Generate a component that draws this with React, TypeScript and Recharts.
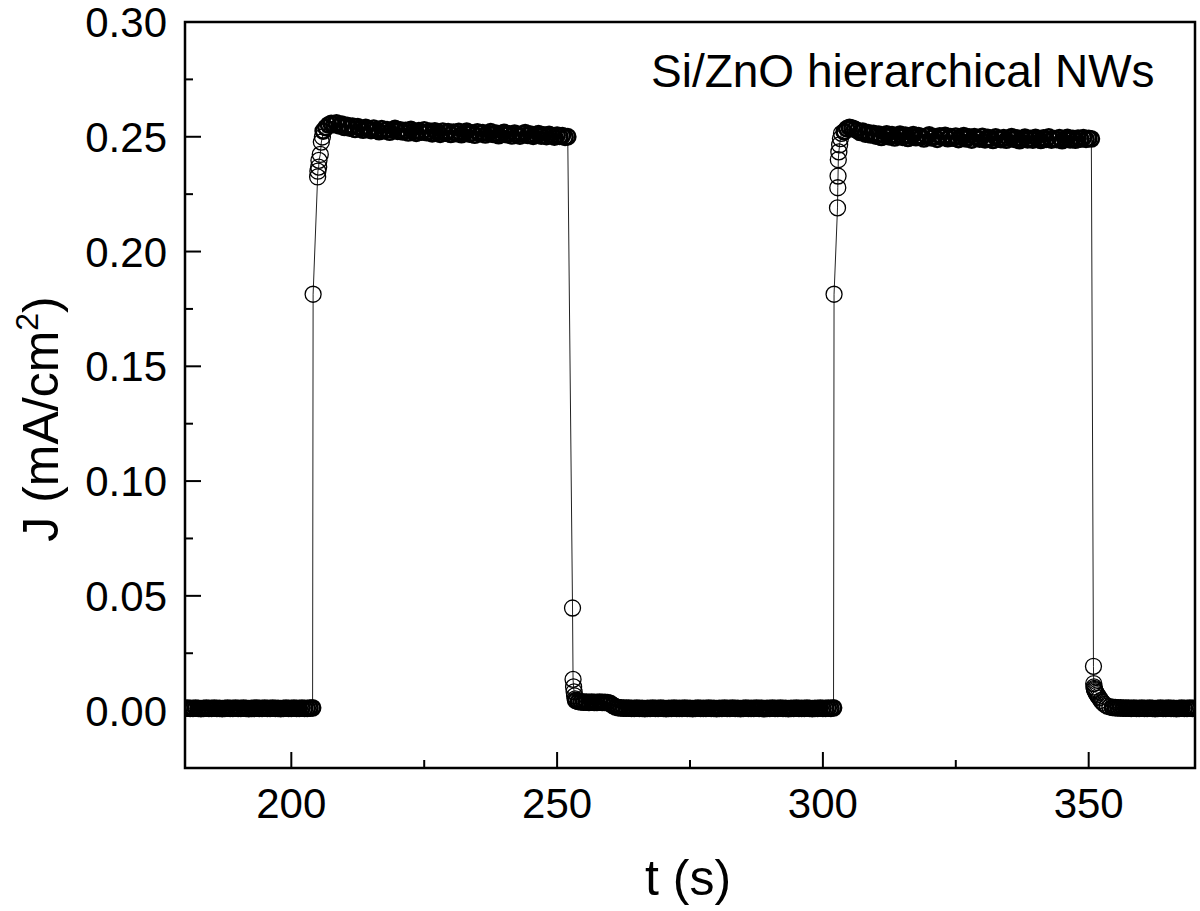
import { ComposedChart, Line, ReferenceArea, XAxis, YAxis } from "recharts";

const FONT = '"Liberation Sans", Arial, Helvetica, sans-serif';

// photocurrent samples, J in mA/cm²
const sampleStep = 0.5;

const dark1Start = 180;
const dark1Values = [
  0.0010, 0.0011, 0.0010, 0.0010, 0.0011, 0.0010, 0.0009, 0.0010, 0.0011, 0.0010,
  0.0010, 0.0011, 0.0010, 0.0010, 0.0009, 0.0010, 0.0011, 0.0010, 0.0010, 0.0011,
  0.0010, 0.0010, 0.0011, 0.0010, 0.0009, 0.0010, 0.0010, 0.0011, 0.0010, 0.0010,
  0.0011, 0.0010, 0.0010, 0.0011, 0.0010, 0.0010, 0.0009, 0.0010, 0.0011, 0.0010,
  0.0010, 0.0011, 0.0010, 0.0010, 0.0011, 0.0010, 0.0010, 0.0011, 0.0012,
];

const rise1Times = [204.1, 204.95, 205.0, 205.15, 205.2, 205.45, 205.65, 205.85];
const rise1Values = [0.1814, 0.2325, 0.235, 0.2368, 0.2397, 0.2423, 0.2477, 0.2499];

const on1Start = 206;
const on1Values = [
  0.2525, 0.2540, 0.2552, 0.2558, 0.2553, 0.2560, 0.2548, 0.2555, 0.2541, 0.2550,
  0.2538, 0.2546, 0.2532, 0.2544, 0.2536, 0.2529, 0.2541, 0.2533, 0.2527, 0.2538,
  0.2530, 0.2522, 0.2535, 0.2526, 0.2531, 0.2520, 0.2529, 0.2536, 0.2524, 0.2530,
  0.2521, 0.2528, 0.2517, 0.2532, 0.2523, 0.2515, 0.2527, 0.2520, 0.2530, 0.2518,
  0.2524, 0.2513, 0.2526, 0.2519, 0.2511, 0.2525, 0.2516, 0.2522, 0.2510, 0.2520,
  0.2514, 0.2523, 0.2509, 0.2518, 0.2524, 0.2512, 0.2517, 0.2507, 0.2521, 0.2513,
  0.2518, 0.2508, 0.2515, 0.2522, 0.2510, 0.2516, 0.2505, 0.2514, 0.2519, 0.2509,
  0.2513, 0.2504, 0.2516, 0.2510, 0.2503, 0.2512, 0.2518, 0.2506, 0.2511, 0.2502,
  0.2509, 0.2514, 0.2503, 0.2508, 0.2501, 0.2510, 0.2505, 0.2499, 0.2507, 0.2502,
  0.2505, 0.2498, 0.2500,
];

const fall1Times = [252.9, 253.0, 253.1, 253.2, 253.3, 253.4];
const fall1Values = [0.0447, 0.0136, 0.0103, 0.0082, 0.0064, 0.0051];

const dark2Start = 253.5;
const dark2Values = [
  0.0044, 0.0040, 0.0038, 0.0037, 0.0037, 0.0036, 0.0037, 0.0036, 0.0036, 0.0037,
  0.0036, 0.0036, 0.0035, 0.0031, 0.0023, 0.0016, 0.0013, 0.0012, 0.0011, 0.0011,
  0.0011, 0.0010, 0.0010, 0.0011, 0.0010, 0.0010, 0.0009, 0.0010, 0.0010, 0.0011,
  0.0010, 0.0010, 0.0011, 0.0010, 0.0009, 0.0010, 0.0010, 0.0011, 0.0010, 0.0010,
  0.0010, 0.0011, 0.0010, 0.0010, 0.0009, 0.0010, 0.0011, 0.0010, 0.0010, 0.0010,
  0.0011, 0.0010, 0.0010, 0.0009, 0.0010, 0.0010, 0.0011, 0.0010, 0.0010, 0.0011,
  0.0010, 0.0010, 0.0009, 0.0010, 0.0011, 0.0010, 0.0010, 0.0010, 0.0011, 0.0010,
  0.0010, 0.0009, 0.0010, 0.0010, 0.0011, 0.0010, 0.0010, 0.0011, 0.0010, 0.0010,
  0.0009, 0.0010, 0.0010, 0.0011, 0.0010, 0.0010, 0.0010, 0.0011, 0.0010, 0.0009,
  0.0010, 0.0010, 0.0011, 0.0010, 0.0010, 0.0011, 0.0010, 0.0012,
];

const rise2Times = [302.1, 302.75, 302.8, 302.85, 302.9, 303.0, 303.15, 303.3, 303.5];
const rise2Values = [0.1814, 0.219, 0.2278, 0.2329, 0.24, 0.2434, 0.2465, 0.2492, 0.2515];

const on2Start = 304;
const on2Values = [
  0.2522, 0.2535, 0.2541, 0.2538, 0.2533, 0.2527, 0.2519, 0.2524, 0.2512, 0.2518,
  0.2508, 0.2515, 0.2503, 0.2511, 0.2497, 0.2506, 0.2513, 0.2500, 0.2509, 0.2495,
  0.2504, 0.2511, 0.2498, 0.2507, 0.2493, 0.2502, 0.2509, 0.2496, 0.2505, 0.2499,
  0.2491, 0.2503, 0.2508, 0.2495, 0.2501, 0.2489, 0.2504, 0.2497, 0.2506, 0.2492,
  0.2500, 0.2494, 0.2503, 0.2488, 0.2498, 0.2505, 0.2491, 0.2499, 0.2486, 0.2501,
  0.2495, 0.2490, 0.2502, 0.2487, 0.2497, 0.2493, 0.2484, 0.2499, 0.2492, 0.2488,
  0.2496, 0.2485, 0.2494, 0.2500, 0.2489, 0.2495, 0.2483, 0.2492, 0.2498, 0.2487,
  0.2493, 0.2486, 0.2497, 0.2490, 0.2484, 0.2495, 0.2489, 0.2499, 0.2486, 0.2492,
  0.2488, 0.2496, 0.2483, 0.2491, 0.2497, 0.2487, 0.2493, 0.2485, 0.2494, 0.2490,
  0.2496, 0.2489, 0.2493, 0.2491,
];

const fall2Times = [
  350.9, 350.95, 351.0, 351.05, 351.1, 351.2, 351.3, 351.45,
  351.6, 351.8, 352.0, 352.3, 352.6, 353.0, 353.5, 354.0,
];
const fall2Values = [
  0.0193, 0.0118, 0.0103, 0.0097, 0.0092, 0.0087, 0.0081, 0.0075,
  0.0069, 0.0062, 0.0055, 0.0045, 0.0036, 0.0027, 0.002, 0.0016,
];

const dark3Start = 354.5;
const dark3Values = [
  0.0014, 0.0013, 0.0012, 0.0012, 0.0011, 0.0011, 0.0011, 0.0010, 0.0011, 0.0010,
  0.0010, 0.0011, 0.0010, 0.0010, 0.0011, 0.0010, 0.0009, 0.0010, 0.0011, 0.0010,
  0.0010, 0.0011, 0.0010, 0.0010, 0.0009, 0.0010, 0.0011, 0.0010, 0.0010, 0.0011,
  0.0010, 0.0010,
];

const xTicks = [200, 225, 250, 275, 300, 325, 350];
const yTicks = [0, 0.025, 0.05, 0.075, 0.1, 0.125, 0.15, 0.175, 0.2, 0.225, 0.25, 0.275, 0.3];

// steady = densely sampled plateau, transient = the few points on each switching edge
const sampled = (start: number, values: number[]) =>
  values.map((j, i) => ({ t: start + i * sampleStep, j, steady: true }));
const paired = (times: number[], values: number[]) =>
  times.map((t, i) => ({ t, j: values[i], steady: false }));

const data = [
  ...sampled(dark1Start, dark1Values),
  ...paired(rise1Times, rise1Values),
  ...sampled(on1Start, on1Values),
  ...paired(fall1Times, fall1Values),
  ...sampled(dark2Start, dark2Values),
  ...paired(rise2Times, rise2Values),
  ...sampled(on2Start, on2Values),
  ...paired(fall2Times, fall2Values),
  ...sampled(dark3Start, dark3Values),
];

function renderDot(props: any) {
  const { cx, cy, index, payload } = props;
  if (cx == null || cy == null) return <g key={`d-${index}`} />;
  // the original sampling is much denser, so plateau rings merge into a solid band
  return (
    <circle
      key={`d-${index}`}
      cx={cx}
      cy={cy}
      r={payload.steady ? 7.6 : 8}
      fill="none"
      stroke="#000"
      strokeWidth={payload.steady ? 2.6 : 1.3}
    />
  );
}

function XTick({ x, y, payload }: any) {
  const major = payload.value % 50 === 0;
  return (
    <g>
      <line x1={x} x2={x} y1={y} y2={y - (major ? 16 : 8)} stroke="#000" strokeWidth={2} />
      {major && (
        <text x={x} y={y + 50} textAnchor="middle" fontSize={42} fontFamily={FONT} fill="#000">
          {payload.value}
        </text>
      )}
    </g>
  );
}

function YTick({ x, y, payload }: any) {
  const major = Math.round(payload.value * 1000) % 50 === 0;
  return (
    <g>
      <line x1={x} x2={x + (major ? 16 : 8)} y1={y} y2={y} stroke="#000" strokeWidth={2} />
      {major && (
        <text x={x - 18} y={y + 15} textAnchor="end" fontSize={42} fontFamily={FONT} fill="#000">
          {payload.value.toFixed(2)}
        </text>
      )}
    </g>
  );
}

const xTitle = () => (
  <text x={688} y={895} textAnchor="middle" fontSize={50} fontFamily={FONT} fill="#000">
    t (s)
  </text>
);

const yTitle = () => (
  <text
    x={58}
    y={419}
    transform="rotate(-90, 58, 419)"
    textAnchor="middle"
    fontSize={50}
    fontFamily={FONT}
    fill="#000"
  >
    J (mA/cm
    <tspan dy={-20} fontSize={32}>2</tspan>
    <tspan dy={20}>)</tspan>
  </text>
);

const annotation = () => (
  <text x={651} y={87} fontSize={46} fontFamily={FONT} fill="#000">
    Si/ZnO hierarchical NWs
  </text>
);

export default function App() {
  return (
    <div style={{ position: "absolute", left: 0, top: 0, width: 1200, height: 911, background: "#fff" }}>
      <ComposedChart width={1200} height={911} data={data} margin={{ top: 22, right: 5, bottom: 0, left: 0 }}>
        <XAxis
          type="number"
          dataKey="t"
          domain={[180, 370]}
          ticks={xTicks}
          interval={0}
          allowDataOverflow
          axisLine={false}
          tickLine={false}
          tickSize={0}
          tickMargin={0}
          tick={<XTick />}
          height={143}
          label={xTitle}
        />
        <YAxis
          type="number"
          domain={[-0.025, 0.3]}
          ticks={yTicks}
          interval={0}
          allowDataOverflow
          axisLine={false}
          tickLine={false}
          tickSize={0}
          tickMargin={0}
          tick={<YTick />}
          width={185}
          label={yTitle}
        />
        <Line
          type="linear"
          dataKey="j"
          stroke="#222"
          strokeWidth={1}
          dot={renderDot}
          activeDot={false}
          isAnimationActive={false}
        />
        <ReferenceArea
          x1={180}
          x2={370}
          y1={-0.025}
          y2={0.3}
          fill="none"
          stroke="#000"
          strokeWidth={2.5}
          label={annotation}
        />
      </ComposedChart>
    </div>
  );
}
